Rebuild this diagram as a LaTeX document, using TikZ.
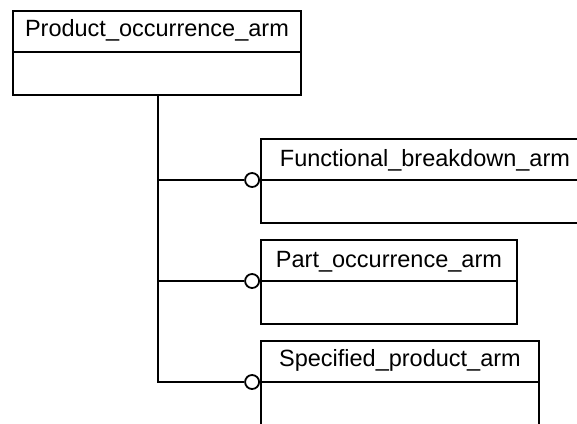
\documentclass[tikz,border=0pt]{standalone}
\usepackage{fontspec}
\setmainfont{Liberation Sans}
\begin{document}
\begin{tikzpicture}[x=1pt,y=1pt,line width=1.9pt,
  cls/.style={draw, rectangle, anchor=north west, inner sep=0pt, minimum height=84pt},
  lbl/.style={anchor=base, inner sep=0pt, font=\fontsize{23.5}{28}\selectfont},
  ring/.style={circle, draw, fill=white, minimum size=14pt, inner sep=0pt, line width=1.8pt, anchor=east}]
\clip (0,0) rectangle (577,-423);
\fill[white] (0,0) rectangle (577,-423);
% boxes
\node[cls, minimum width=288pt] (top) at (12,-10) {};
\node[cls, minimum width=328pt] (fb) at (260,-138) {};
\node[cls, minimum width=256pt] (po) at (260,-239) {};
\node[cls, minimum width=278pt, minimum height=110pt] (sp) at (260,-340) {};
% dividers
\foreach \b in {top,fb,po,sp}{
  \draw ([yshift=-42pt]\b.north west) -- ([yshift=-42pt]\b.north east);
}
% labels
\node[lbl] (tTop) at ([yshift=-26pt]top.north) {Product\_occurrence\_arm};
\node[lbl] (tFb) at ([yshift=-28pt]fb.north) {Functional\_breakdown\_arm};
\node[lbl] (tPo) at ([yshift=-28pt]po.north) {Part\_occurrence\_arm};
\node[lbl] (tSp) at ([yshift=-26pt]sp.north) {Specified\_product\_arm};
% rings
\node[ring] (c1) at ([yshift=-42pt]fb.north west) {};
\node[ring] (c2) at ([yshift=-42pt]po.north west) {};
\node[ring] (c3) at ([yshift=-42pt]sp.north west) {};
% connectors
\draw ([xshift=1pt]top.south) -- ([xshift=1pt]top.south |- c3.west) -- (c3.west);
\draw ([xshift=1pt]top.south |- c1.west) -- (c1.west);
\draw ([xshift=1pt]top.south |- c2.west) -- (c2.west);
\end{tikzpicture}
\end{document}
